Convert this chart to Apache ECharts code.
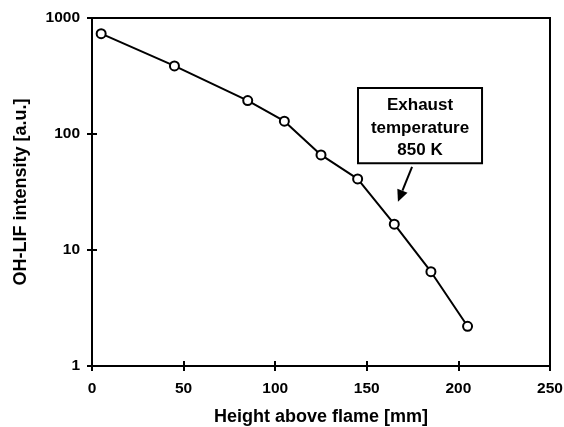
<!DOCTYPE html>
<html>
<head>
<meta charset="utf-8">
<script src="https://cdn.jsdelivr.net/npm/echarts@6/dist/echarts.min.js"></script>
<style>
html,body{margin:0;padding:0;background:#fff;}
#c{width:564px;height:427px;}
</style>
</head>
<body>
<div id="c"></div>
<script>
const heights = [5, 45, 85, 105, 125, 145, 165, 185, 205];
const intensity = [733, 386, 194, 129, 66, 41, 16.7, 6.5, 2.2];
const xTicks = [0, 50, 100, 150, 200, 250];
const yTicks = [1, 10, 100, 1000];
const annotationLines = ['Exhaust', 'temperature', '850 K'];

const FONT = '"Liberation Sans", Arial, sans-serif';
const chart = echarts.init(document.getElementById('c'));
const axisCommon = {
  min: xTicks[0], max: xTicks[xTicks.length - 1], interval: xTicks[1] - xTicks[0]
};
const option = {
  backgroundColor: '#fff',
  animation: false,
  grid: { left: 92, top: 18, right: 14, bottom: 61, show: true, borderColor: '#000', borderWidth: 2,
    containLabel: false, outerBoundsMode: 'none' },
  xAxis: [{
    type: 'value', ...axisCommon,
    name: 'Height above flame [mm]', nameLocation: 'middle', nameGap: 42,
    nameTextStyle: { fontFamily: FONT, fontWeight: 'bold', fontSize: 18, color: '#000' },
    axisLine: { lineStyle: { color: '#000', width: 2 } },
    axisTick: { show: true, length: 5, lineStyle: { color: '#000', width: 2 } },
    axisLabel: { fontFamily: FONT, fontWeight: 'bold', fontSize: 15.5, color: '#000', margin: 15 },
    splitLine: { show: false }
  }, {
    type: 'value', ...axisCommon, position: 'bottom',
    axisLine: { show: false },
    axisTick: { show: true, inside: true, length: 5, lineStyle: { color: '#000', width: 2 } },
    axisLabel: { show: false }, splitLine: { show: false }
  }],
  yAxis: [{
    type: 'log', logBase: 10, min: yTicks[0], max: yTicks[yTicks.length - 1],
    name: 'OH-LIF intensity [a.u.]', nameLocation: 'middle', nameGap: 62,
    nameTextStyle: { fontFamily: FONT, fontWeight: 'bold', fontSize: 18, color: '#000' },
    axisLine: { show: true, lineStyle: { color: '#000', width: 2 } },
    axisTick: { show: true, length: 5, lineStyle: { color: '#000', width: 2 } },
    axisLabel: { fontFamily: FONT, fontWeight: 'bold', fontSize: 15.5, color: '#000', margin: 12,
      formatter: v => yTicks.includes(Math.round(v)) ? String(Math.round(v)) : '' },
    splitLine: { show: false }, minorTick: { show: false }
  }, {
    type: 'log', logBase: 10, min: yTicks[0], max: yTicks[yTicks.length - 1], position: 'left',
    axisLine: { show: false },
    axisTick: { show: true, inside: true, length: 5, lineStyle: { color: '#000', width: 2 } },
    axisLabel: { show: false }, splitLine: { show: false }
  }],
  series: [{
    type: 'line',
    data: heights.map((h, i) => [h, intensity[i]]),
    symbol: 'circle', symbolSize: 9,
    itemStyle: { color: '#fff', borderColor: '#000', borderWidth: 2 },
    lineStyle: { color: '#000', width: 2 },
    z: 5
  }]
};
chart.setOption(option);

// annotation box and arrow, anchored in data coordinates
const boxTL = chart.convertToPixel({ gridIndex: 0 }, [145.2, 249]);
const boxBR = chart.convertToPixel({ gridIndex: 0 }, [212.9, 56]);
const arrS = chart.convertToPixel({ gridIndex: 0 }, [174.7, 52]);
const arrE = chart.convertToPixel({ gridIndex: 0 }, [167, 26]);
const cx = (boxTL[0] + boxBR[0]) / 2;
const dx = arrE[0] - arrS[0], dy = arrE[1] - arrS[1];
const len = Math.hypot(dx, dy), ux = dx / len, uy = dy / len;
const hl = 12, hw = 5.5;
const bx = arrE[0] - ux * hl, by = arrE[1] - uy * hl;
chart.setOption({
  graphic: [
    { type: 'rect', shape: { x: boxTL[0], y: boxTL[1], width: boxBR[0] - boxTL[0], height: boxBR[1] - boxTL[1] },
      style: { fill: '#fff', stroke: '#000', lineWidth: 2 }, z: 10 },
    ...annotationLines.map((t, i) => ({
      type: 'text', x: cx, y: boxTL[1] + 17.5 + i * 22.5,
      style: { text: t, fill: '#000', font: 'bold 17px ' + FONT, textAlign: 'center', textVerticalAlign: 'middle' }, z: 11
    })),
    { type: 'line', shape: { x1: arrS[0], y1: arrS[1], x2: bx, y2: by }, style: { stroke: '#000', lineWidth: 2 }, z: 10 },
    { type: 'polygon', shape: { points: [arrE, [bx - uy * hw, by + ux * hw], [bx + uy * hw, by - ux * hw]] },
      style: { fill: '#000' }, z: 10 }
  ]
});
</script>
</body>
</html>
